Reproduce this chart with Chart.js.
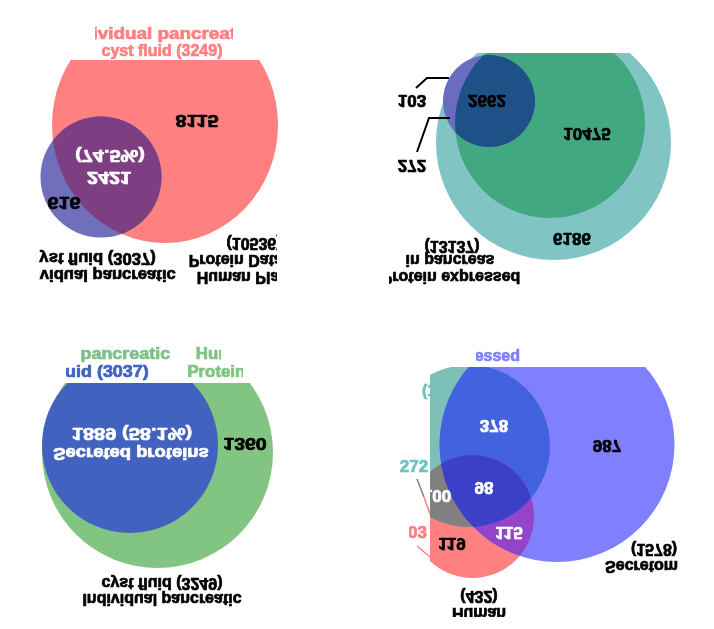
<!DOCTYPE html>
<html><head><meta charset="utf-8">
<script src="https://cdn.jsdelivr.net/npm/chart.js@4"></script>
<style>html,body{margin:0;padding:0;background:#fff}#wrap{width:714px;height:629px}</style>
</head><body><div id="wrap"><canvas id="c" width="714" height="629"></canvas></div>
<script>
// ---- data (region counts and set totals) ----
const p1Values = [616, 2421, 8115];          // blue only, overlap, red only
const p1Share = '74.5%';
const p1Totals = [3249, 3037, 10536];
const p2Values = [103, 272, 2662, 10475, 6186];
const p2Totals = [13137];
const p3Values = [1889, 1360];
const p3Share = '58.1%';
const p3Totals = [3037, 3249];
const p4Values = [272, 103, 100, 378, 98, 115, 119, 987];
const p4Totals = [13137, 1578, 432];

// ---- layout (in the value space of the figure scales) ----
const circles = {
  p1Red:   {x:165, y:125, rx:113, ry:118},
  p1Blue:  {x:101, y:177, r:60.5},
  p2Teal:  {x:553.5, y:142.5, r:117.5},
  p2Green: {x:550, y:123, r:95},
  p2Blue:  {x:489, y:101, r:46},
  p3Green: {x:157.5, y:452.5, r:115.5},
  p3Blue:  {x:130, y:445, r:88},
  p4Blue:  {x:557, y:444.5, r:117.5},
  p4Teal:  {x:469, y:446, r:81},
  p4Red:   {x:472.5, y:516.5, r:61.5}
};

const vennPlugin = {
  id: 'venn',
  beforeDraw(chart) {
    const ctx = chart.ctx;
    ctx.save(); ctx.fillStyle = '#fff'; ctx.fillRect(0, 0, chart.width, chart.height); ctx.restore();
  },
  afterDatasetsDraw(chart) {
    const ctx = chart.ctx, xs = chart.scales.x, ys = chart.scales.y;
    const X = v => xs.getPixelForValue(v), Y = v => ys.getPixelForValue(v);
    const path = c => {
      const rx = c.rx || c.r, ry = c.ry || c.r;
      ctx.beginPath();
      ctx.ellipse(X(c.x), Y(c.y), Math.abs(X(c.x + rx) - X(c.x)), Math.abs(Y(c.y + ry) - Y(c.y)), 0, 0, Math.PI * 2);
    };
    const fill = (c, col) => { path(c); ctx.fillStyle = col; ctx.fill(); };
    const inter = (list, col) => {
      ctx.save();
      for (let i = 0; i < list.length - 1; i++) { path(list[i]); ctx.clip(); }
      fill(list[list.length - 1], col);
      ctx.restore();
    };
    const clipRect = (x0, y0, x1, y1) => {
      ctx.beginPath(); ctx.rect(X(x0), Y(y0), X(x1) - X(x0), Y(y1) - Y(y0)); ctx.clip();
    };
    const line = (pts, col, w) => {
      ctx.save(); ctx.strokeStyle = col; ctx.lineWidth = w || 2; ctx.beginPath();
      pts.forEach((p, i) => i ? ctx.lineTo(X(p[0]), Y(p[1])) : ctx.moveTo(X(p[0]), Y(p[1])));
      ctx.stroke(); ctx.restore();
    };
    const text = (s, x, y, o) => {
      o = o || {};
      ctx.save();
      if (o.clip) clipRect(...o.clip);
      ctx.translate(X(x), Y(y));
      ctx.scale(o.sx || 1, o.flip ? -1 : 1);
      ctx.font = `bold ${o.size || 16}px "Liberation Sans", Arial, sans-serif`;
      ctx.fillStyle = o.color || '#000';
      ctx.strokeStyle = o.color || '#000';
      ctx.lineWidth = 0.7;
      ctx.lineJoin = 'round';
      ctx.textAlign = o.align || 'center';
      ctx.textBaseline = 'middle';
      ctx.fillText(String(s), 0, 0);
      ctx.strokeText(String(s), 0, 0);
      ctx.restore();
    };
    const C = circles;

    // Panel 1
    ctx.save(); clipRect(0, 60, 357, 315);
    fill(C.p1Red, '#ff8080'); fill(C.p1Blue, '#6f6fbb'); inter([C.p1Red, C.p1Blue], '#7d3f82');
    ctx.restore();
    const red = '#ff8080';
    text('Individual pancreatic', 158, 35, {color: red, sx: 1.18, clip: [95, 0, 233, 45]});
    text(`cyst fluid (${p1Totals[0]})`, 162, 52, {color: red});
    const n1 = {flip: true, size: 17, sx: 1.17};
    text(p1Values[2], 197, 120, n1);
    text(`(${p1Share})`, 110, 155, {...n1, color: '#fff'});
    text(p1Values[1], 109, 177, {...n1, color: '#fff'});
    text(p1Values[0], 64, 202, n1);
    const cl1 = [39, 0, 357, 315];
    text(`cyst fluid (${p1Totals[1]})`, 93, 257, {flip: true, sx: 1.04, clip: cl1});
    text('Individual pancreatic', 93, 274, {flip: true, sx: 1.04, clip: cl1});
    const cl1b = [0, 0, 277, 315];
    text(`(${p1Totals[2]})`, 254, 242, {flip: true, clip: cl1b});
    text('Protein Database', 254, 259, {flip: true, clip: cl1b});
    text('Human Plasma', 254, 276, {flip: true, clip: cl1b});

    // Panel 2
    ctx.save(); clipRect(357, 53, 714, 315);
    fill(C.p2Teal, '#80c4c4'); fill(C.p2Green, '#42a882'); fill(C.p2Blue, '#6a6cc0');
    inter([C.p2Green, C.p2Blue], '#1f5189');
    ctx.restore();
    line([[416, 88], [427, 78], [449, 78]], '#000', 2);
    line([[417, 152], [429, 118], [450, 118]], '#000', 2);
    const n2 = {flip: true, size: 17};
    text(p2Values[2], 487, 100, n2);
    text(p2Values[3], 587, 133, n2);
    text(p2Values[4], 572, 238, n2);
    text(p2Values[0], 412, 100, n2);
    text(p2Values[1], 412, 165, n2);
    text(`(${p2Totals[0]})`, 452, 245, {flip: true});
    text('in pancreas', 450, 259, {flip: true});
    text('Protein expressed', 451, 276, {flip: true, clip: [389, 0, 714, 315]});

    // Panel 3
    ctx.save(); clipRect(0, 383, 357, 629);
    fill(C.p3Green, '#82c482'); fill(C.p3Blue, '#4262c0');
    ctx.restore();
    text('Individual pancreatic', 81, 355, {color: '#7cc08a', sx: 1.12, clip: [75, 315, 357, 629]});
    text(`cyst fluid (${p3Totals[0]})`, 81, 373, {color: '#4262c0', sx: 1.12, clip: [66, 315, 357, 629]});
    text('Human Plasma', 256, 355, {color: '#80c480', sx: 1.05, clip: [0, 315, 221, 629]});
    text('Protein Database', 256, 373, {color: '#80c480', sx: 1.05, clip: [0, 315, 243, 629]});
    text(`${p3Values[0]} (${p3Share})`, 132, 433, {flip: true, size: 17, sx: 1.18, color: '#fff'});
    text('Secreted proteins', 131, 452, {flip: true, size: 16, sx: 1.15, color: '#fff'});
    text(p3Values[1], 245, 443, {flip: true, size: 17, sx: 1.15});
    text(`cyst fluid (${p3Totals[1]})`, 162, 582, {flip: true});
    text('Individual pancreatic', 162, 598, {flip: true});

    // Panel 4
    ctx.save(); clipRect(430, 367, 714, 629);
    fill(C.p4Teal, '#7cc0b8'); fill(C.p4Red, '#ff8080'); fill(C.p4Blue, '#8080ff');
    inter([C.p4Teal, C.p4Blue], '#4262e0');
    inter([C.p4Red, C.p4Teal], '#808080');
    inter([C.p4Red, C.p4Blue], '#9444c8');
    inter([C.p4Red, C.p4Teal, C.p4Blue], '#3c40c8');
    ctx.restore();
    line([[417, 479], [424, 497]], '#808080', 1.5);
    line([[424, 497], [430, 514]], '#ff8080', 1.5);
    line([[417, 546], [430, 557]], '#ff8080', 1.5);
    text('Protein expressed', 520, 357, {align: 'right', color: '#8080ff', clip: [476, 315, 714, 629]});
    text(`(${p4Totals[0]})`, 422, 392, {align: 'left', color: '#70c0c0', clip: [0, 315, 430, 629]});
    text(p4Values[0], 414, 467, {color: '#70c0c0', size: 17});
    text(p4Values[1], 427, 533, {align: 'right', color: '#ff8080', size: 17, clip: [409, 315, 714, 629]});
    const n4 = {flip: true, size: 17};
    text(p4Values[3], 494, 425, {...n4, color: '#fff'});
    text(p4Values[7], 607, 445, n4);
    text(p4Values[4], 484, 487, {...n4, color: '#fff'});
    text(p4Values[2], 437, 495, {...n4, color: '#fff', clip: [430, 315, 714, 629]});
    text(p4Values[5], 509, 532, {...n4, color: '#fff'});
    text(p4Values[6], 452, 543, n4);
    text(`(${p4Totals[1]})`, 654, 548, {flip: true});
    text('Secretome', 646, 565, {flip: true, clip: [0, 315, 678, 629]});
    text(`(${p4Totals[2]})`, 479, 595, {flip: true});
    text('Human', 479, 612, {flip: true, clip: [0, 315, 714, 617]});
  }
};

new Chart(document.getElementById('c'), {
  type: 'scatter',
  data: { datasets: [{ data: [], pointRadius: 0 }] },
  options: {
    responsive: false,
    animation: false,
    devicePixelRatio: 1,
    layout: { padding: 0 },
    plugins: { legend: { display: false }, tooltip: { enabled: false } },
    scales: {
      x: { type: 'linear', min: 0, max: 714, display: false },
      y: { type: 'linear', min: 0, max: 629, reverse: true, display: false }
    }
  },
  plugins: [vennPlugin]
});
</script>
</body></html>
